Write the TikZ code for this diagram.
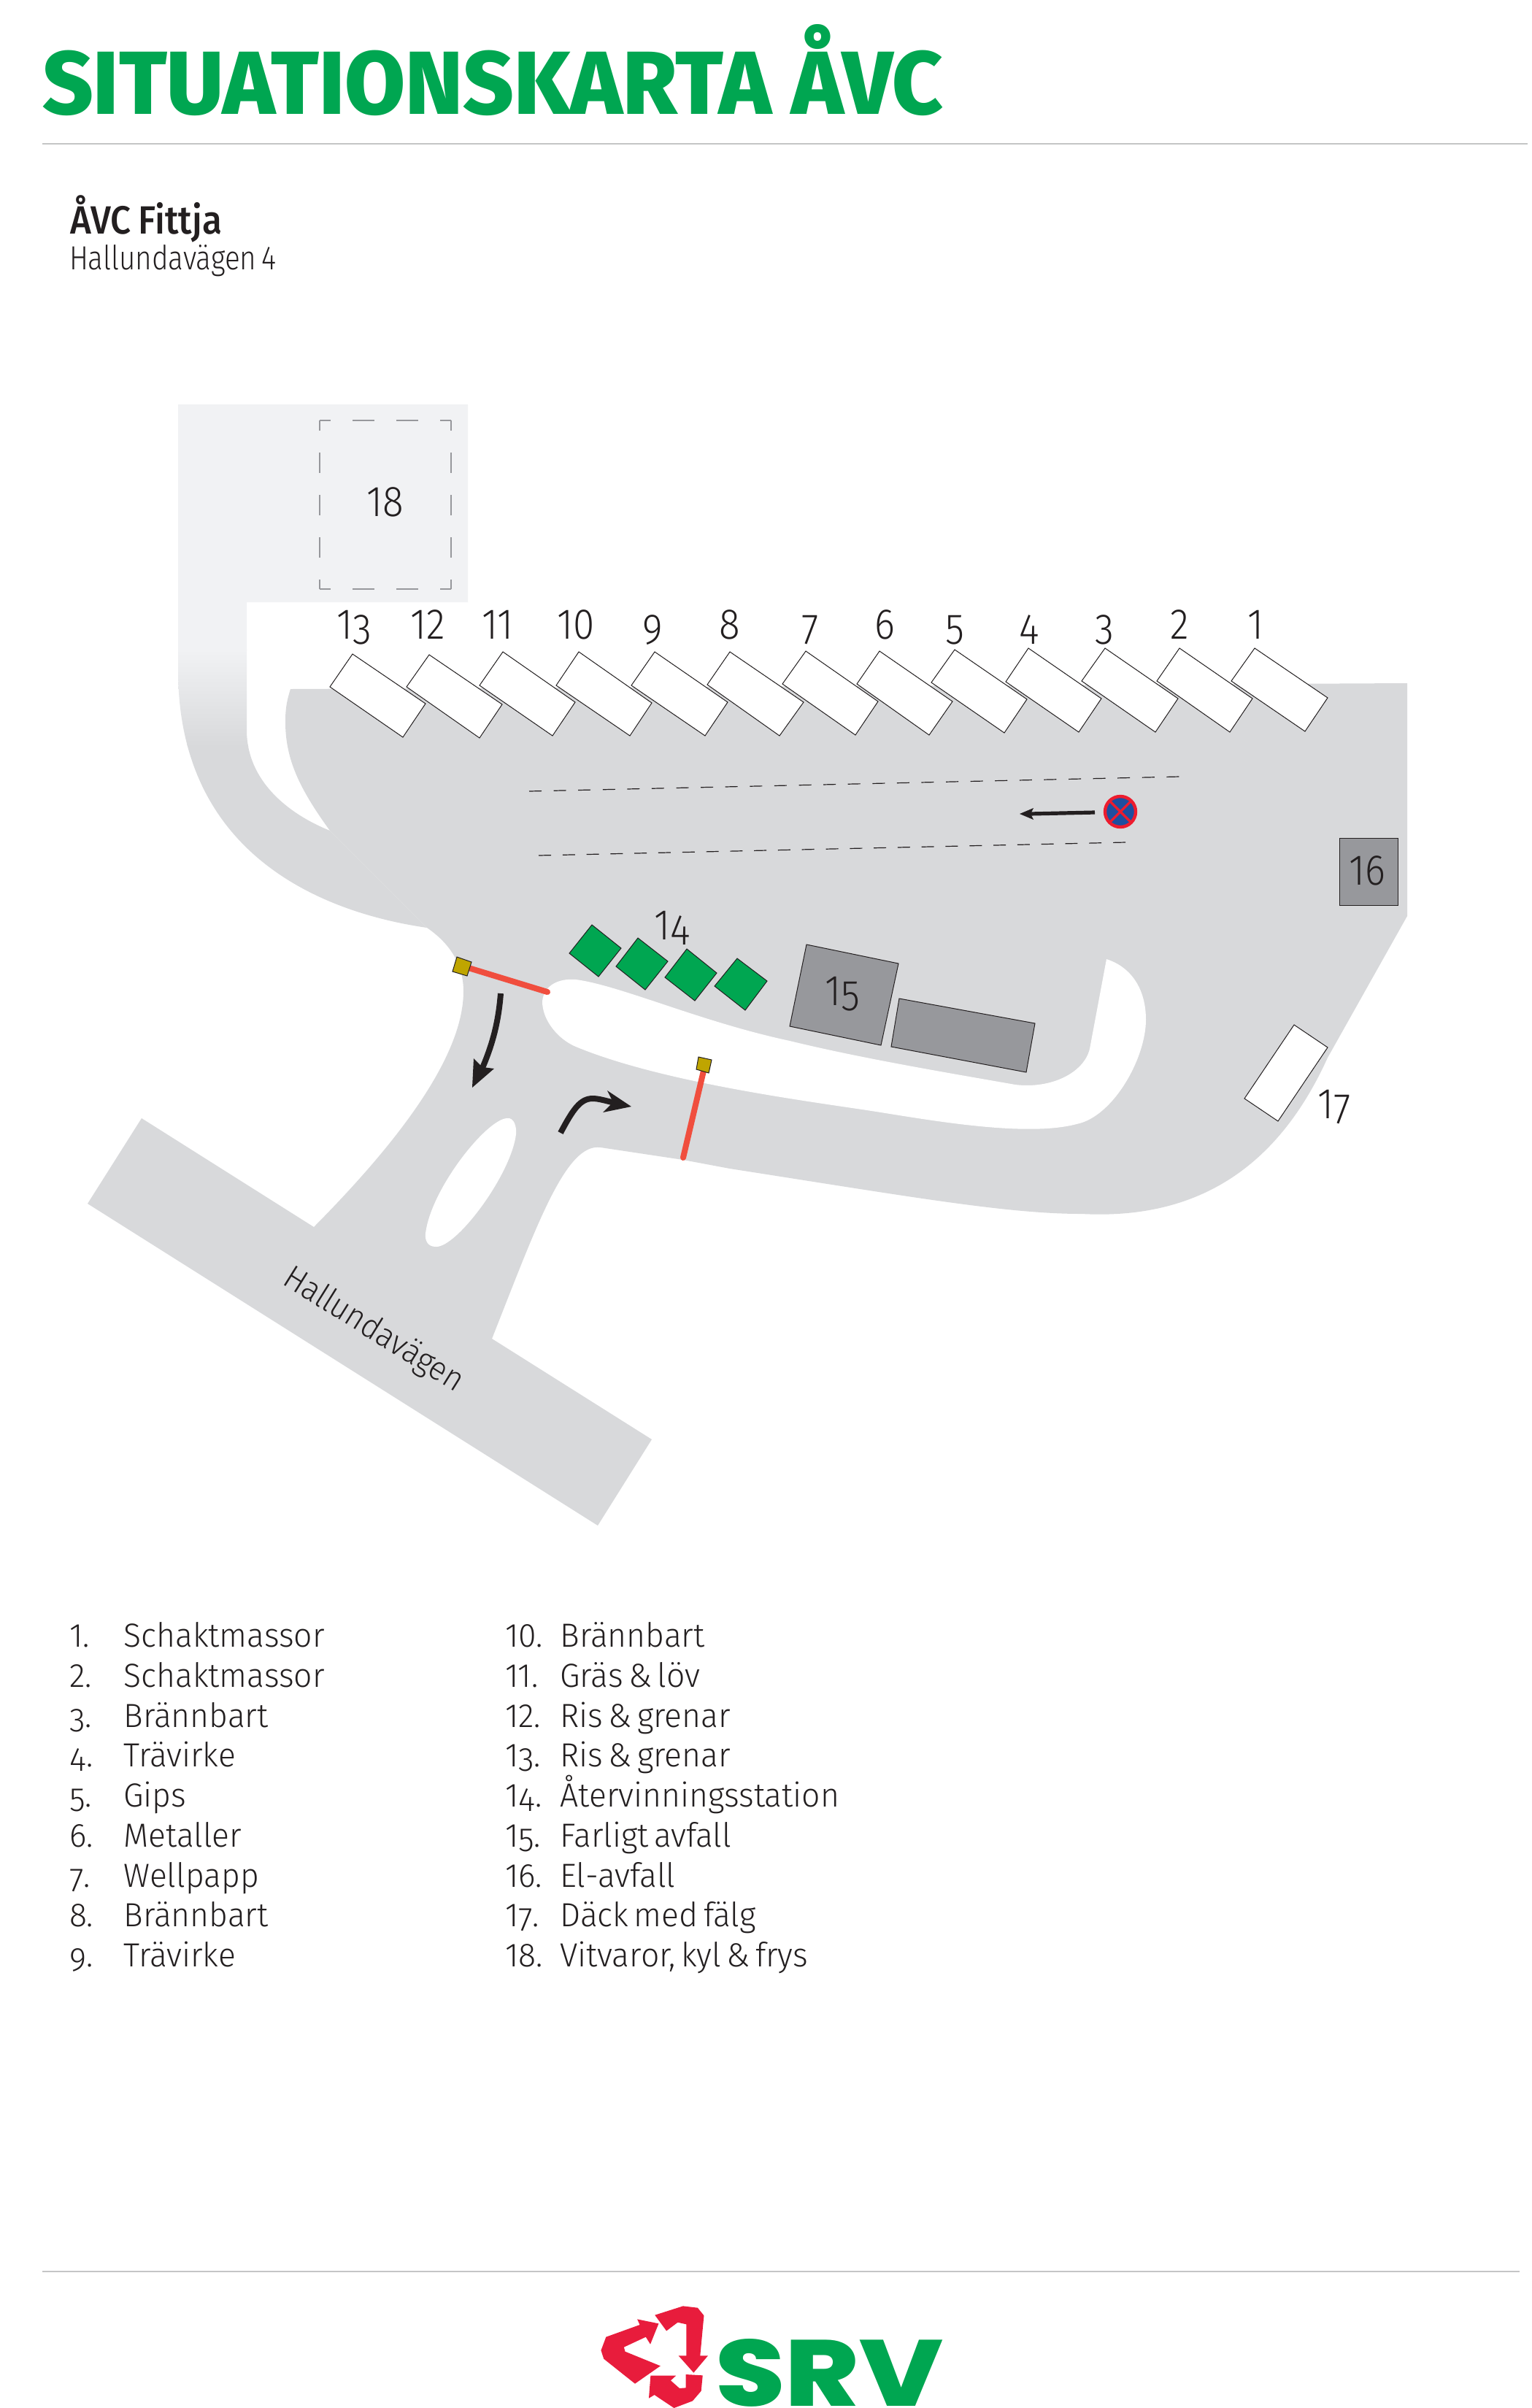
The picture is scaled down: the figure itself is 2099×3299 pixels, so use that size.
\documentclass[tikz,border=0pt]{standalone}
\usepackage{fontspec}
\usepackage{graphicx}
\newfontfamily\lightfont{Fira Sans Light}[FakeStretch=0.97,WordSpace=0.6]
\newfontfamily\addrfont{Fira Sans Light}[FakeStretch=0.845,WordSpace=0.7]
\newfontfamily\streetfont{Fira Sans Light}[FakeStretch=0.93]
\newfontfamily\mapfont{Fira Sans Light}[FakeStretch=0.9]
\newfontfamily\medfont{Fira Sans Medium}[FakeStretch=0.915,WordSpace=0.8]
\newfontfamily\headfont{Fira Sans ExtraBold}
\newfontfamily\logofont{Poppins ExtraBold}
\definecolor{srvgreen}{HTML}{00A651}
\definecolor{road}{HTML}{D8D9DB}
\definecolor{roadlight}{HTML}{F1F2F4}
\definecolor{ink}{HTML}{231F20}
\definecolor{bldg}{HTML}{97989C}
\definecolor{rulec}{HTML}{C4C5C6}
\definecolor{barred}{HTML}{F04E3E}
\definecolor{post}{HTML}{BFA500}
\definecolor{logored}{HTML}{E81C3C}
\definecolor{signblue}{HTML}{1F4E9F}
\definecolor{signred}{HTML}{ED1C2E}
\newcommand{\dn}[1]{\raisebox{-3pt}{#1}}
\newcommand{\dnn}[1]{\raisebox{-3.5pt}{#1}}
\tikzset{
  plain/.style={inner sep=0,outer sep=0},
  listtext/.style={plain,anchor=base west,text=ink,font=\lightfont\fontsize{22.9}{24}\selectfont},
  maplab/.style={plain,anchor=base,text=ink,font=\mapfont\fontsize{29.5}{30}\selectfont},
  slot/.style={draw=ink,line width=0.5pt,fill=white},
  house/.style={draw=ink,line width=0.5pt,fill=bldg},
  greenbox/.style={draw=ink,line width=0.5pt,fill=srvgreen},
  postbox/.style={draw=ink,line width=0.5pt,fill=post},
  bar/.style={draw=barred,line width=4pt,line cap=round},
  rulel/.style={draw=rulec,line width=1.1pt},
  lane/.style={draw=ink,line width=0.6pt},
  sq18/.style={draw=bldg,line width=1.2pt},
}
\begin{document}
\begin{tikzpicture}[x=0.5pt,y=-0.5pt]
\useasboundingbox (0,0) rectangle (2099,3299);
\fill[white] (0,0) rectangle (2099,3299);
% rules
\draw[rulel] (58,197) -- (2093,197);
\draw[rulel] (58,3112) -- (2082,3112);
% title
\node[plain,anchor=base west] (title) at (58,156) {\resizebox{617pt}{61.5pt}{\headfont\color{srvgreen}SITUATIONSKARTA ÅVC}};
\node[plain,anchor=base west,text=ink,font=\medfont\fontsize{27}{28}\selectfont] (site) at (96,320) {ÅVC Fittja};
\node[plain,anchor=base west,text=ink,font=\addrfont\fontsize{22.9}{24}\selectfont] (addr) at (95,369) {Hallundavägen 4};
% left access road with gradient
\begin{scope}
\clip (244,554) -- (641,554) -- (641,825) -- (338,825) -- (338,1000)
  .. controls (338,1070) and (395,1115) .. (452,1138) -- (585,1271)
  .. controls (440,1250) and (244,1170) .. (244,918) -- cycle;
\fill[roadlight] (240,550) rectangle (645,892);
\shade[top color=roadlight,bottom color=road] (240,890) rectangle (645,1022);
\fill[road] (240,1020) rectangle (645,1300);
\end{scope}
% main yard and roads
\fill[road] (398,944) -- (1928,936) -- (1928,1255) -- (1819,1449)
  .. controls (1755,1590) and (1650,1672) .. (1482,1663)
  .. controls (1380,1663) and (1250,1640) .. (1000,1601)
  -- (936,1589) -- (823,1572)
  .. controls (775,1565) and (735,1680) .. (674,1834)
  -- (893,1972) -- (819,2090) -- (120,1649) -- (194,1532) -- (430,1681)
  .. controls (540,1570) and (635,1450) .. (635,1358)
  .. controls (635,1325) and (620,1295) .. (585,1271)
  -- (452,1138)
  .. controls (410,1080) and (391,1040) .. (391,989)
  .. controls (391,970) and (393,960) .. (398,944) -- cycle;
% islands
\fill[white] (743,1372) .. controls (745,1350) and (765,1340) .. (789,1342)
  .. controls (850,1350) and (960,1400) .. (1082,1426)
  .. controls (1180,1450) and (1300,1470) .. (1391,1486)
  .. controls (1440,1492) and (1485,1470) .. (1493,1437)
  -- (1516,1314)
  .. controls (1550,1325) and (1570,1355) .. (1570,1397)
  .. controls (1570,1450) and (1525,1530) .. (1475,1540)
  .. controls (1400,1560) and (1250,1530) .. (1181,1520)
  .. controls (1080,1505) and (900,1480) .. (789,1434)
  .. controls (765,1424) and (743,1398) .. (743,1372) -- cycle;
\fill[white] (694,1532) .. controls (705,1530) and (708,1545) .. (707,1554)
  .. controls (700,1610) and (625,1710) .. (597,1708)
  .. controls (585,1708) and (582,1698) .. (583,1690)
  .. controls (590,1630) and (665,1535) .. (694,1532) -- cycle;
% slots 1-13
\draw[slot] (483,896) -- (583,964) -- (552,1010) -- (452,941) -- cycle;
\draw[slot] (588,897) -- (688,965) -- (657,1011) -- (557,941) -- cycle;
\draw[slot] (689,893) -- (788,962) -- (757,1008) -- (657,939) -- cycle;
\draw[slot] (793,893) -- (893,963) -- (863,1008) -- (762,939) -- cycle;
\draw[slot] (897,893) -- (997,962) -- (966,1008) -- (865,939) -- cycle;
\draw[slot] (1000,893) -- (1101,962) -- (1068,1008) -- (969,938) -- cycle;
\draw[slot] (1104,892) -- (1203,961) -- (1172,1007) -- (1072,937) -- cycle;
\draw[slot] (1205,892) -- (1305,961) -- (1273,1007) -- (1174,937) -- cycle;
\draw[slot] (1308,890) -- (1407,958) -- (1376,1004) -- (1276,935) -- cycle;
\draw[slot] (1409,888) -- (1509,957) -- (1478,1003) -- (1378,934) -- cycle;
\draw[slot] (1514,888) -- (1614,957) -- (1583,1003) -- (1482,933) -- cycle;
\draw[slot] (1616,888) -- (1716,957) -- (1685,1003) -- (1585,933) -- cycle;
\draw[slot] (1719,888) -- (1819,956) -- (1788,1002) -- (1687,933) -- cycle;
\draw[slot] (1773,1404) -- (1819,1435) -- (1751,1536) -- (1705,1505) -- cycle;
% buildings
\draw[house] (1835,1148) rectangle (1915,1240);
\draw[house] (1105,1294) -- (1231,1320) -- (1207,1432) -- (1082,1406) -- cycle;
\draw[house] (1232,1368) -- (1418,1402) -- (1406,1469) -- (1221,1434) -- cycle;
% green stations
\draw[greenbox] (811,1267) -- (851,1299) -- (820,1338) -- (780,1306) -- cycle;
\draw[greenbox] (874,1285) -- (915,1317) -- (884,1356) -- (844,1324) -- cycle;
\draw[greenbox] (941,1300) -- (982,1333) -- (952,1371) -- (911,1339) -- cycle;
\draw[greenbox] (1010,1313) -- (1051,1344) -- (1021,1384) -- (979,1351) -- cycle;
% barriers
\draw[bar] (642,1326) -- (750,1359);
\draw[bar] (964,1467) -- (936,1586);
\draw[postbox] (626,1311) -- (646,1318) -- (640,1337) -- (620,1331) -- cycle;
\draw[postbox] (957,1448) -- (975,1452) -- (971,1470) -- (954,1465) -- cycle;
% lanes
\draw[lane,dash pattern=on 8.5pt off 8.3pt] (725,1084) -- (1616,1064);
\draw[lane,dash pattern=on 8.5pt off 7.9pt] (738,1172) -- (1542,1154);
% area 18
\draw[sq18,dash pattern=on 7.5pt off 15pt on 15pt off 15pt on 15pt off 15pt on 7.5pt off 0pt] (438,576) -- (618,576);
\draw[sq18,dash pattern=on 7.5pt off 15pt on 15pt off 15pt on 15pt off 15pt on 7.5pt off 0pt] (438,807) -- (618,807);
\draw[sq18,dash pattern=on 7pt off 15pt on 14pt off 15pt on 14pt off 15pt on 14pt off 15pt on 7pt off 0pt] (438,576) -- (438,807);
\draw[sq18,dash pattern=on 7pt off 15pt on 14pt off 15pt on 14pt off 15pt on 14pt off 15pt on 7pt off 0pt] (618,576) -- (618,807);
% traffic arrows
\draw[ink,line width=4pt] (686,1361) .. controls (683,1400) and (675,1430) .. (661,1463);
\fill[ink] (647,1490) -- (649,1450) -- (661,1462) -- (677,1464) -- cycle;
\draw[ink,line width=4pt] (768,1552) .. controls (785,1520) and (795,1505) .. (812,1505) .. controls (820,1505) and (830,1508) .. (842,1511);
\fill[ink] (865,1516) -- (832,1494) -- (840,1510) -- (826,1524) -- cycle;
\draw[ink,line width=2.6pt] (1500,1113) -- (1410,1115);
\fill[ink] (1397,1115) -- (1416,1107) -- (1412,1115) -- (1416,1123) -- cycle;
% sign
\draw[signred,fill=signblue,line width=2.2pt] (1535,1112) circle[radius=21];
\draw[signred,line width=1.6pt] (1520,1097) -- (1550,1127) (1550,1097) -- (1520,1127);
% map numbers
\node[maplab] (m1) at (1720,875) {1};
\node[maplab] (m2) at (1616,875) {2};
\node[maplab] (m3) at (1513,875) {\dnn{3}};
\node[maplab] (m4) at (1410,875) {\dnn{4}};
\node[maplab] (m5) at (1308,875) {\dnn{5}};
\node[maplab] (m6) at (1212,875) {6};
\node[maplab] (m7) at (1110,875) {\dnn{7}};
\node[maplab] (m8) at (1000,875) {8};
\node[maplab] (m9) at (894,875) {\dnn{9}};
\node[maplab] (m10) at (789,875) {10};
\node[maplab] (m11) at (682,875) {11};
\node[maplab] (m12) at (586,875) {12};
\node[maplab] (m13) at (485,875) {1\dnn{3}};
\node[maplab] (m14) at (921,1287) {1\dnn{4}};
\node[maplab] (m15) at (1154,1377) {1\dnn{5}};
\node[maplab] (m16) at (1873,1212) {16};
\node[maplab] (m17) at (1828,1532) {1\dnn{7}};
\node[maplab] (m18) at (528,707) {18};
\node[plain,anchor=base west,text=ink,font=\streetfont\fontsize{22.9}{24}\selectfont,rotate=-32] (street) at (385,1758) {Hallundavägen};
% legend
\foreach \n/\t [count=\i from 0] in {1./Schaktmassor,2./Schaktmassor,\dn{3}./Brännbart,\dn{4}./Trävirke,\dn{5}./Gips,6./Metaller,\dn{7}./Wellpapp,8./Brännbart,\dn{9}./Trävirke}{
  \node[listtext] (ln\i) at (95,2256.7+54.75*\i) {\n};
  \node[listtext] (lt\i) at (169.5,2256.7+54.75*\i) {\t};
}
\foreach \n/\t [count=\i from 0] in {10./Brännbart,11./Gräs \& löv,12./Ris \& grenar,1\dn{3}./Ris \& grenar,1\dn{4}./Återvinningsstation,1\dn{5}./Farligt avfall,16./El-avfall,1\dn{7}./Däck med fälg,18./{Vitvaror, kyl \& frys}}{
  \node[listtext] (rn\i) at (692,2256.7+54.75*\i) {\n};
  \node[listtext] (rt\i) at (767.5,2256.7+54.75*\i) {\t};
}
% logo
\begin{scope}[shift={(780,3120)},xscale=0.3448,yscale=0.3333]
\fill[logored] (340,155) -- (452,118) -- (510,125) -- (535,157) -- (520,322) -- (551,322) -- (494,392) -- (434,322) -- (465,322) -- (465,193) -- (431,185) -- (386,220) -- cycle;
\fill[logored] (270,172) -- (355,190) -- (322,275) -- (304,245) -- (217,287) -- (222,305) -- (362,364) -- (261,437) -- (137,335) -- (126,300) -- (146,245) -- (280,195) -- cycle;
\fill[logored] (323,404) -- (424,404) -- (403,424) -- (438,456) -- (463,454) -- (463,399) -- (530,403) -- (524,467) -- (490,508) -- (416,537) -- (338,483) -- (316,497) -- cycle;
\end{scope}
\node[plain,anchor=base west] (srv) at (980,3296) {\resizebox{156pt}{46pt}{\logofont\color{srvgreen}SRV}};
\end{tikzpicture}
\end{document}
